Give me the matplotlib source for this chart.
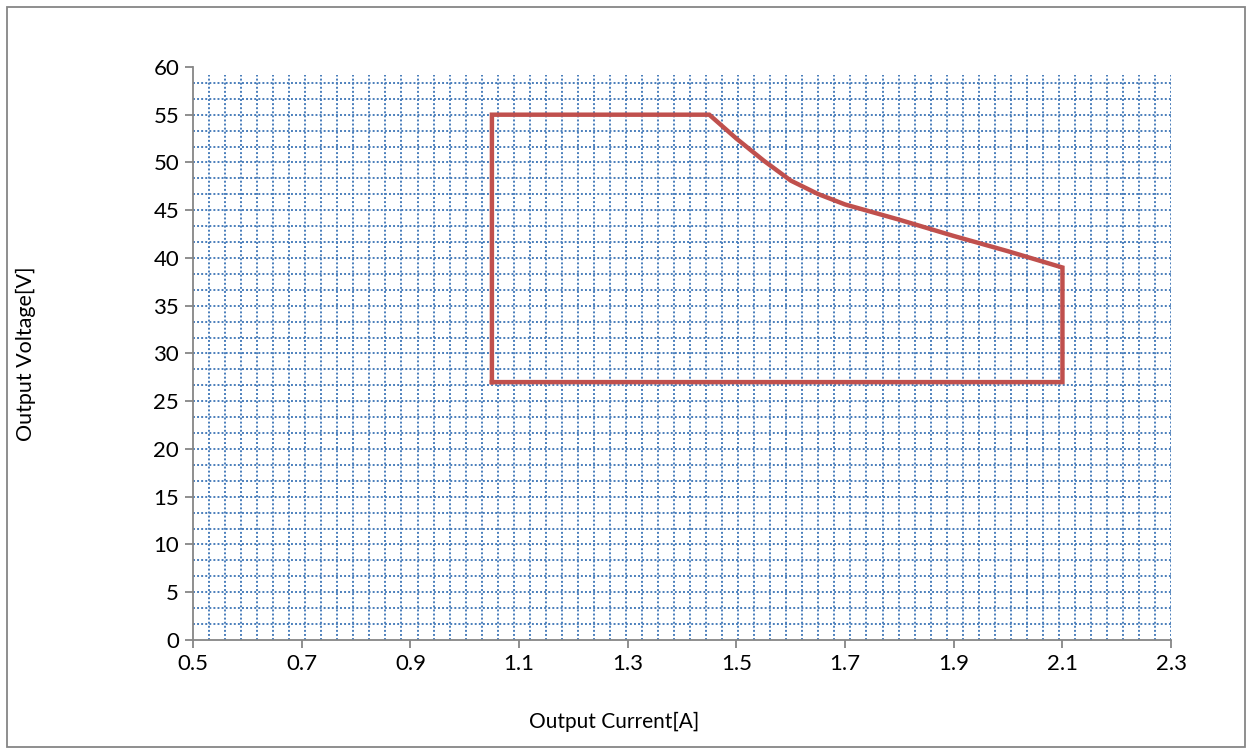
import numpy as np
import matplotlib.pyplot as plt
from matplotlib.patches import Rectangle

# output current / voltage envelope
cur=[1.05,1.05,1.45,1.50,1.55,1.60,1.65,1.70,1.80,1.90,2.00,2.10,2.10,1.05]
volt=[27,55,55,52.5,50.2,48.1,46.7,45.6,44.0,42.3,40.7,39.0,27,27]
xticks=[0.5,0.7,0.9,1.1,1.3,1.5,1.7,1.9,2.1,2.3]
xlabels=["0.5","0.7","0.9","1.1","1.3","1.5","1.7","1.9","2.1","2.3"]
yticks=np.arange(0,61,5)

plt.rcParams['font.family']=['Lato','DejaVu Sans']
fig=plt.figure(figsize=(12.52,7.53),dpi=100)
ax=fig.add_axes([0.1542,0.1501,0.7812,0.761])

# dotted blue grid
grid_col="#4A7EBB"
for gx in np.linspace(0.5,2.3,62)[1:]:
    ax.plot([gx,gx],[0,59.2],color=grid_col,lw=1.4,ls=(0,(1,1.1)),zorder=1)
for gy in np.arange(5/3,60,5/3):
    ax.plot([0.5,2.3],[gy,gy],color=grid_col,lw=1.4,ls=(0,(1,1.1)),zorder=1)

ax.plot(cur,volt,color="#C0504D",lw=3.2,solid_joinstyle='miter',zorder=3)

ax.set_xlim(0.5,2.3)
ax.set_ylim(0,60)
ax.set_xticks(xticks)
ax.set_xticklabels(xlabels)
ax.set_yticks(yticks)
for s in ["top","right"]:
    ax.spines[s].set_visible(False)
for s in ["left","bottom"]:
    ax.spines[s].set_color("#868686")
    ax.spines[s].set_linewidth(1.3)
ax.tick_params(axis='both',direction='out',length=6,width=1.3,color="#868686",labelsize=16,pad=4)
ax.set_xlabel("Output Current[A]",fontsize=15)
ax.set_ylabel("Output Voltage[V]",fontsize=15.5)
ax.xaxis.set_label_coords(0.430,-0.125)
ax.yaxis.set_label_coords(-0.1605,0.5)

fig.patches.append(Rectangle((7/1252,6/753),1238/1252,740/753,transform=fig.transFigure,
                             fill=False,edgecolor="#868686",lw=1.3))
plt.savefig("out.png",dpi=100)
